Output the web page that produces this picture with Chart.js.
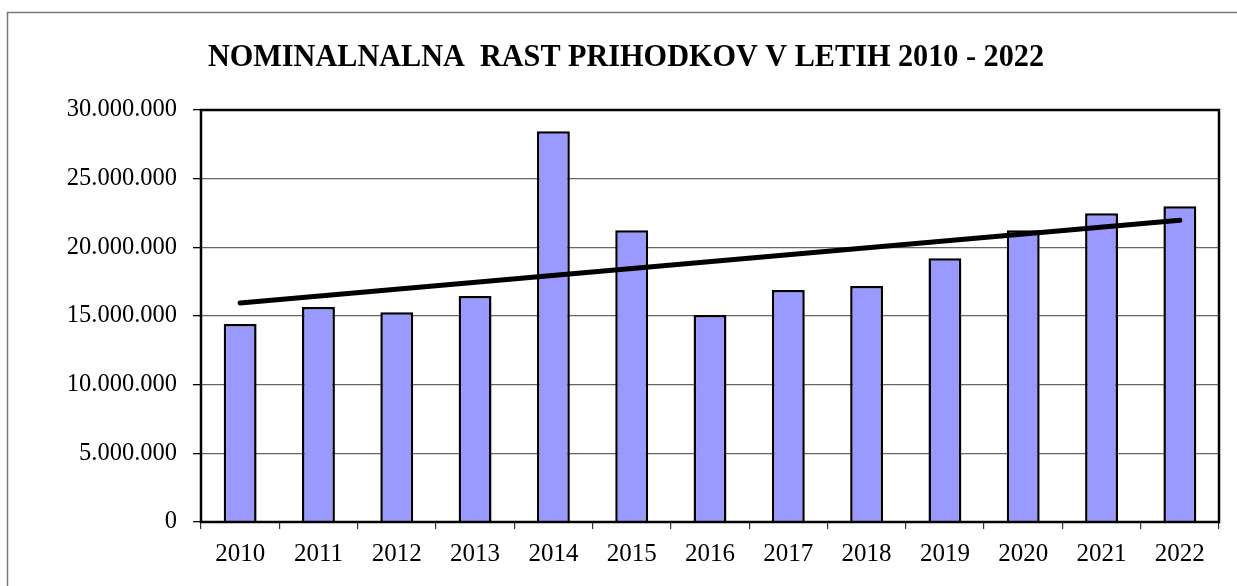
<!DOCTYPE html>
<html lang="sl">
<head>
  <meta charset="UTF-8" />
  <title>Nominalna rast prihodkov 2010 - 2022</title>
  <script src="https://cdn.jsdelivr.net/npm/chart.js"></script>
  <style>
    html, body {
      margin: 0;
      padding: 0;
      background: white;
      overflow: hidden;
    }
    #wrap {
      width: 1237px;
      height: 586px;
    }
  </style>
</head>
<body>
  <div id="wrap"><canvas id="chart" width="1237" height="586"></canvas></div>

  <script>
    // data
    const years = ["2010", "2011", "2012", "2013", "2014", "2015", "2016",
                   "2017", "2018", "2019", "2020", "2021", "2022"];
    const revenue = [14410000, 15650000, 15280000, 16450000, 28460000, 21250000, 15070000,
                     16890000, 17180000, 19210000, 21250000, 22490000, 23000000];
    // trend line: only the two end points, the line is drawn straight between them
    const trend = [15940000, null, null, null, null, null, null,
                   null, null, null, null, null, 21980000];
    const titleText = "NOMINALNALNA  RAST PRIHODKOV V LETIH 2010 - 2022";

    const serif = "'Liberation Serif', 'Times New Roman', serif";

    // outer frame, plot border and the title
    const decor = {
      id: "decor",
      beforeDraw(chart) {
        const ctx = chart.ctx;
        ctx.save();
        ctx.strokeStyle = "#7a7a7a";
        ctx.lineWidth = 1.5;
        ctx.strokeRect(7.5, 12.5, 1300, 700);
        ctx.restore();
      },
      afterDraw(chart) {
        const ctx = chart.ctx;
        const a = chart.chartArea;
        ctx.save();
        ctx.strokeStyle = "#000";
        ctx.lineWidth = 2.5;
        ctx.strokeRect(a.left, a.top, a.right - a.left, a.bottom - a.top);

        ctx.font = "bold 32px " + serif;
        ctx.fillStyle = "#000";
        ctx.textBaseline = "alphabetic";
        const w = ctx.measureText(titleText).width;
        const target = 836;
        ctx.translate(626, 66);
        ctx.scale(target / w, 1);
        ctx.textAlign = "center";
        ctx.fillText(titleText, 0, 0);
        ctx.restore();
      }
    };

    new Chart(document.getElementById("chart"), {
      data: {
        labels: years,
        datasets: [
          {
            type: "line",
            label: "Trend",
            data: trend,
            spanGaps: true,
            borderColor: "#000",
            borderWidth: 5,
            borderCapStyle: "round",
            pointRadius: 0,
            fill: false,
            order: 0
          },
          {
            type: "bar",
            label: "Prihodki",
            data: revenue,
            backgroundColor: "#9999ff",
            borderColor: "#000",
            borderWidth: 2.5,
            barPercentage: 0.42,
            categoryPercentage: 1,
            order: 1
          }
        ]
      },
      options: {
        responsive: false,
        animation: false,
        layout: {
          padding: { top: 110, right: 18, bottom: 0, left: 0 }
        },
        plugins: {
          legend: { display: false },
          title: { display: false },
          tooltip: { enabled: false }
        },
        scales: {
          x: {
            afterFit: (s) => { s.height = 64; },
            grid: {
              offset: true,
              drawOnChartArea: false,
              tickLength: 7,
              tickColor: "#333",
              lineWidth: 1.2
            },
            border: { display: false },
            ticks: {
              color: "#000",
              padding: 10,
              font: { family: serif, size: 25 }
            }
          },
          y: {
            min: 0,
            max: 30000000,
            afterFit: (s) => { s.width = 201; },
            grid: {
              color: "#666",
              lineWidth: 1.3,
              tickLength: 8,
              tickColor: "#000"
            },
            border: { display: false },
            ticks: {
              stepSize: 5000000,
              color: "#000",
              padding: 16,
              font: { family: serif, size: 24.5 },
              callback: (v) => String(v).replace(/\B(?=(\d{3})+(?!\d))/g, ".")
            }
          }
        }
      },
      plugins: [decor]
    });
  </script>
</body>
</html>
